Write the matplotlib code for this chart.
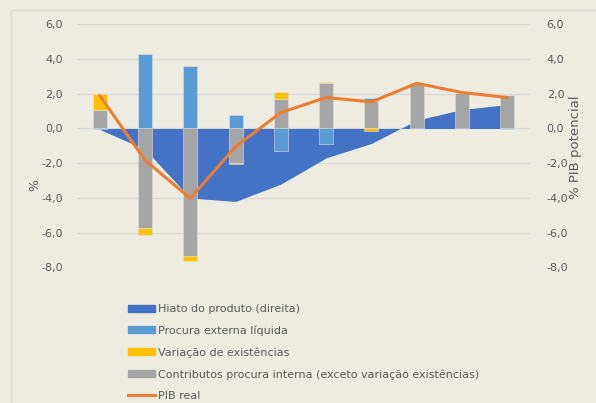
import matplotlib
matplotlib.use("Agg")
import matplotlib.pyplot as plt
from matplotlib.patches import Patch, Rectangle
from matplotlib.lines import Line2D
import numpy as np

years = ["2010", "2011", "2012", "2013", "2014", "2015", "2016", "2017", "2018", "2019"]
hiato = [-0.05, -1.2, -4.0, -4.2, -3.2, -1.69, -0.86, 0.48, 1.09, 1.38]
procura_externa = [-0.05, 4.27, 3.6, 0.8, -1.3, -0.92, 0.19, 0.03, 0.0, -0.05]
variacao_exist = [0.88, -0.36, -0.26, -0.03, 0.40, 0.11, -0.12, 0.0, 0.0, 0.0]
contrib_interna = [1.09, -5.75, -7.34, -2.0, 1.69, 2.59, 1.57, 2.59, 2.05, 1.92]
pib_real = [1.9, -1.82, -4.02, -1.05, 0.92, 1.78, 1.53, 2.6, 2.07, 1.78]
yticks = [6, 4, 2, 0, -2, -4, -6, -8]

bg = "#EEECE1"
txt = "#595959"
c_hiato = "#4472C4"
c_ext = "#5B9BD5"
c_var = "#FFC000"
c_int = "#A5A5A5"
c_pib = "#ED7D31"

W, H = 596, 403
fig = plt.figure(figsize=(W / 100, H / 100), dpi=100, facecolor=bg)
plt.rcParams['font.family'] = ['DejaVu Sans']

l, r, b, t = 77 / W, 530 / W, 1 - 267.5 / H, 1 - 24.2 / H
ax2 = fig.add_axes([l, b, r - l, t - b])
ax = ax2.twinx()
ax2.set_facecolor(bg)
ax.patch.set_visible(False)

x = np.arange(len(years))
# area on right axis (behind)
ax2.fill_between(x, 0, hiato, color=c_hiato, lw=0, zorder=2)
for yv in yticks:
    ax2.axhline(yv, color="#D9D9D9", lw=0.9, zorder=1)

# stacked bars on front axis
series = [contrib_interna, procura_externa, variacao_exist]
colors = [c_int, c_ext, c_var]
pos_base = np.zeros(len(years))
neg_base = np.zeros(len(years))
w = 0.31
for vals, col in zip(series, colors):
    v = np.array(vals)
    bottoms = np.where(v >= 0, pos_base, neg_base)
    ax.bar(x, v, w, bottom=bottoms, color=col, edgecolor="#E0E0E0", linewidth=0.4, zorder=3)
    pos_base = pos_base + np.where(v >= 0, v, 0)
    neg_base = neg_base + np.where(v < 0, v, 0)

ax.plot(x, pib_real, color=c_pib, lw=2.2, zorder=4, solid_capstyle="round")

for a in (ax, ax2):
    a.set_ylim(-8, 6)
    a.set_xlim(-0.5, len(years) - 0.5)
    for s in a.spines.values():
        s.set_visible(False)
    a.set_yticks(yticks)
    a.set_yticklabels([f"{v:.1f}".replace(".", ",") for v in yticks])
    a.tick_params(length=0, colors=txt, labelsize=8)

ax2.yaxis.tick_left()
ax.yaxis.tick_right()
ax2.tick_params(axis="y", pad=10)
ax.tick_params(axis="y", pad=12)
ax2.set_xticks(x)
ax2.set_xticklabels(years)
ax2.tick_params(axis="x", pad=8)
ax.set_xticks([])

fig.text(35 / W, 1 - 185 / H, "%", rotation=90, color=txt, fontsize=9, ha="center", va="center")
fig.text(576 / W, 1 - 147 / H, "% PIB potencial", rotation=90, color=txt, fontsize=9.5,
         ha="center", va="center")

# chart border
fig.patches.append(Rectangle((11 / W, -0.1), 1.2, 1 - 10 / H + 0.1, transform=fig.transFigure,
                             fill=False, edgecolor="#D9D9D9", lw=0.9))

handles = [
    Patch(color=c_hiato),
    Patch(color=c_ext),
    Patch(color=c_var),
    Patch(color=c_int),
    Line2D([0], [0], color=c_pib, lw=2.2),
]
labels = ["Hiato do produto (direita)", "Procura externa líquida", "Variação de existências",
          "Contributos procura interna (exceto variação existências)", "PIB real"]
fig.legend(handles, labels, loc="upper left", bbox_to_anchor=(128 / W, 1 - 304 / H),
           frameon=False, fontsize=8, labelcolor=txt, handlelength=2.4, handleheight=0.6,
           handletextpad=0.3, labelspacing=1.02, borderpad=0, borderaxespad=0)

fig.savefig("out.png", dpi=100, facecolor=bg)
